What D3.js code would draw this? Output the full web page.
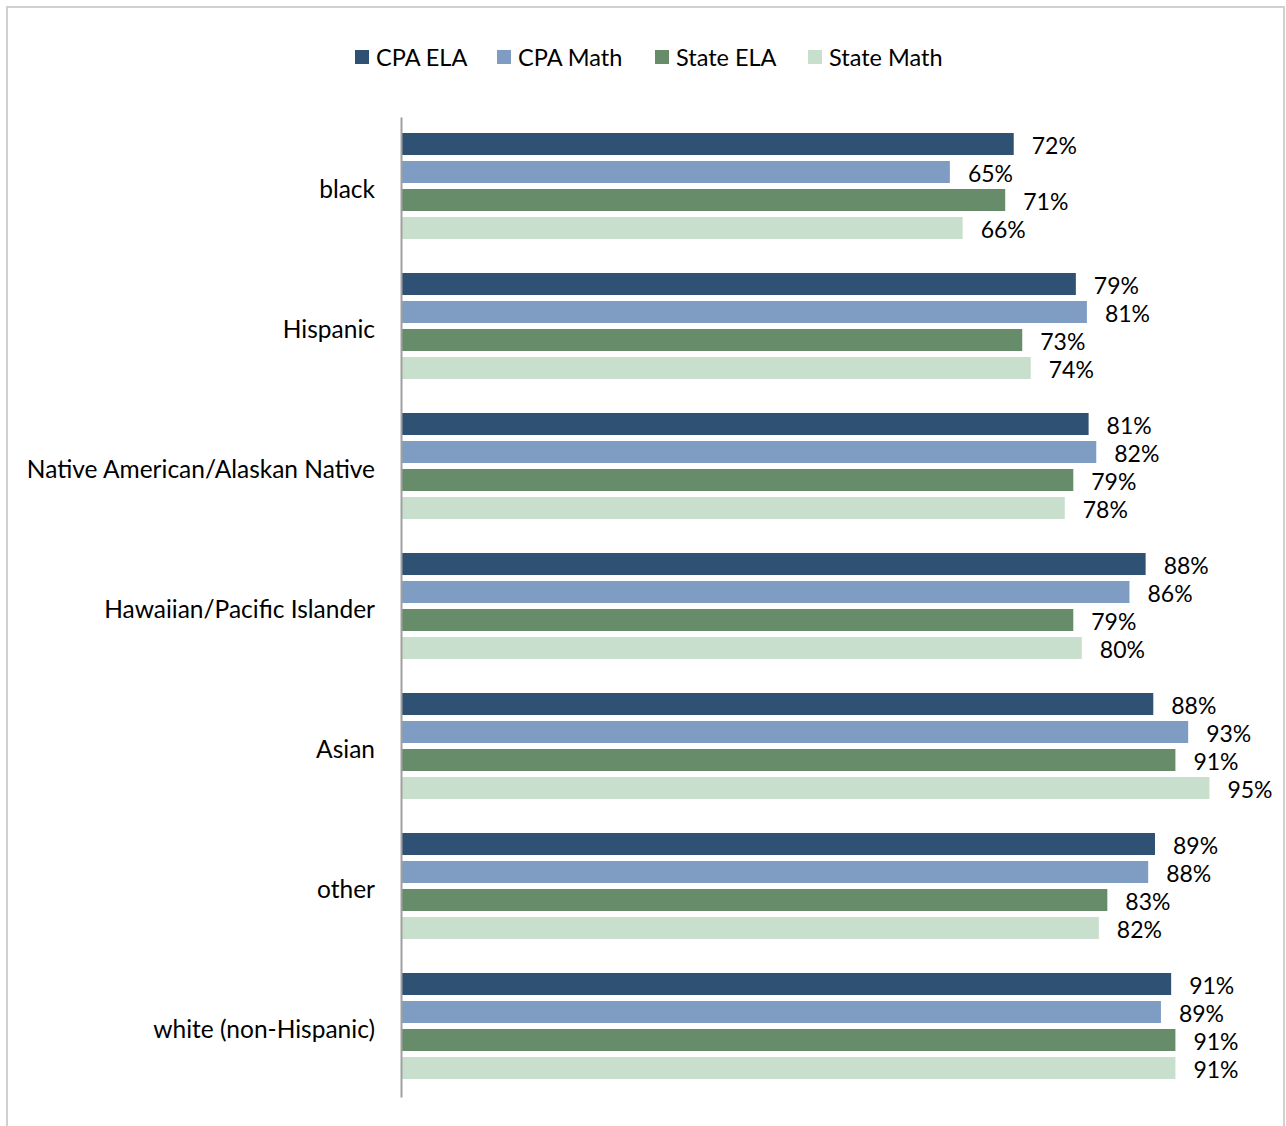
<!DOCTYPE html>
<html lang="en">
<head>
  <meta charset="UTF-8">
  <script src="https://d3js.org/d3.v7.min.js"></script>
  <title>Proficiency by group</title>
  <style>
    body { margin: 0; background: #fff; }
    text { font-family: Lato, "Open Sans", sans-serif; fill: #000; }
  </style>
</head>
<body>
  <script type="text/javascript">

    const w = 1286;
    const h = 1126;
    const fontFam = "Lato, 'Open Sans', sans-serif";

    var groups = ["black", "Hispanic", "Native American/Alaskan Native", "Hawaiian/Pacific Islander",
      "Asian", "other", "white (non-Hispanic)"];
    var seriesNames = ["CPA ELA", "CPA Math", "State ELA", "State Math"];
    var colors = ["#2e5174", "#7f9dc3", "#668c69", "#c8dfcd"];

    // values in percent (bar lengths), same order as groups
    var cpaEla = [72, 79.3, 80.8, 87.5, 88.4, 88.6, 90.5];
    var cpaMath = [64.5, 80.6, 81.7, 85.6, 92.5, 87.8, 89.3];
    var stateEla = [71, 73, 79, 79, 91, 83, 91];
    var stateMath = [66, 74, 78, 80, 95, 82, 91];
    var allSeries = [cpaEla, cpaMath, stateEla, stateMath];

    var svg = d3.select("body")
      .append("svg")
      .attr("width", w)
      .attr("height", h);

    // outer frame
    svg.append("rect")
      .attr("x", 7)
      .attr("y", 7)
      .attr("width", 1277)
      .attr("height", 1130)
      .attr("fill", "none")
      .attr("stroke", "#d0d0d0")
      .attr("stroke-width", 2);

    var x = d3.scaleLinear()
      .domain([0, 100])
      .range([401, 1252]);

    var y = d3.scaleBand()
      .domain(groups)
      .range([117, 1097]);

    var inner = d3.scaleBand()
      .domain(seriesNames)
      .range([16, 122])
      .paddingInner(0.214)
      .paddingOuter(0);

    var rows = [];
    groups.forEach(function (g, gi) {
      seriesNames.forEach(function (s, si) {
        rows.push({ group: g, series: s, si: si, value: allSeries[si][gi] });
      });
    });

    svg.selectAll("rect.bar")
      .data(rows)
      .enter()
      .append("rect")
      .attr("class", "bar")
      .attr("x", x(0))
      .attr("y", function (d) { return y(d.group) + inner(d.series); })
      .attr("width", function (d) { return x(d.value) - x(0); })
      .attr("height", inner.bandwidth())
      .attr("fill", function (d) { return colors[d.si]; });

    svg.selectAll("text.val")
      .data(rows)
      .enter()
      .append("text")
      .attr("class", "val")
      .attr("x", function (d) { return x(d.value) + 18; })
      .attr("y", function (d) { return y(d.group) + inner(d.series) + inner.bandwidth() / 2 + 10; })
      .attr("font-size", "23px")
      .text(function (d) { return Math.round(d.value) + "%"; });

    // category axis
    var yAxis = d3.axisLeft(y).tickSize(0).tickPadding(26);
    var ga = svg.append("g")
      .attr("transform", "translate(401,0)")
      .call(yAxis);
    ga.select(".domain").attr("stroke", "#a0a0a0").attr("stroke-width", 2);
    ga.selectAll("text")
      .attr("font-size", "24.5px")
      .attr("font-family", fontFam)
      .attr("fill", "#000")
      .attr("dy", "0.43em");

    // legend
    var legendX = [355, 497, 655, 808];
    var lg = svg.selectAll("g.leg")
      .data(seriesNames)
      .enter()
      .append("g")
      .attr("class", "leg")
      .attr("transform", function (d, i) { return "translate(" + legendX[i] + ",50)"; });
    lg.append("rect")
      .attr("width", 14)
      .attr("height", 14)
      .attr("fill", function (d, i) { return colors[i]; });
    lg.append("text")
      .attr("x", 21)
      .attr("y", 16)
      .attr("font-size", "23.5px")
      .text(function (d) { return d; });

  </script>
</body>
</html>
